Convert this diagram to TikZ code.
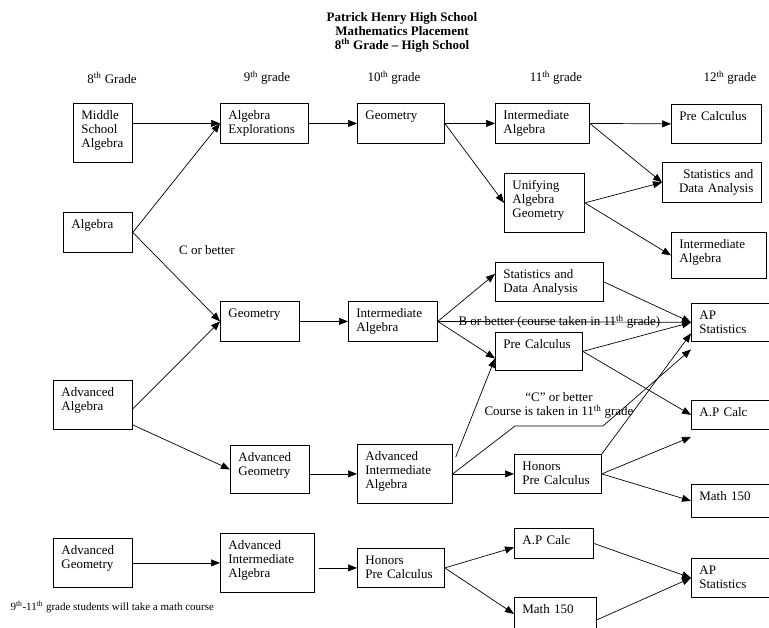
\documentclass[tikz,border=0pt]{standalone}
\usepackage{fontspec}
\setmainfont{Liberation Serif}
\usetikzlibrary{arrows.meta}

\begin{document}
\begin{tikzpicture}[x=1pt, y=-1pt, font=\fontsize{13}{14}\selectfont,
	course/.style={draw, line width=0.8pt, anchor=north west, align=left, inner xsep=8pt, inner ysep=0pt, text height=16pt},
	goes/.style={draw, line width=0.7pt, -{Triangle[length=9pt,width=7pt]}}]
	\useasboundingbox (0,0) rectangle (769,628);
	\clip (0,0) rectangle (769,628);
	\node[align=center, font=\fontsize{13}{14}\selectfont\bfseries] (title) at (402,32) {Patrick Henry High School\\Mathematics Placement\\8\textsuperscript{th} Grade -- High School};
	\node (g8) at (112,78) {8\textsuperscript{th} Grade};
	\node (g9) at (267,78) {9\textsuperscript{th} grade};
	\node (g10) at (394,78) {10\textsuperscript{th} grade};
	\node (g11) at (556,78) {11\textsuperscript{th} grade};
	\node (g12) at (730,78) {12\textsuperscript{th} grade};
	\node[course, text width=43pt, text depth=43pt] (msa) at (73,103) {Middle\\School\\Algebra};
	\node[course, text width=53pt, text depth=24pt] (alg) at (63,212) {Algebra};
	\node[course, text width=63pt, text depth=33pt] (advalg) at (53,380) {Advanced\\Algebra};
	\node[course, text width=63pt, text depth=33pt] (advgeo8) at (53,538) {Advanced\\Geometry};
	\node[course, text width=72pt, text depth=24pt] (expl) at (220,103) {Algebra\\Explorations};
	\node[course, text width=63pt, text depth=24pt] (geo9) at (220,301) {Geometry};
	\node[course, text width=63pt, text depth=32pt] (advgeo9) at (230,445) {Advanced\\Geometry};
	\node[course, text width=78pt, text depth=43pt] (advint9) at (220,533) {Advanced\\Intermediate\\Algebra};
	\node[course, text width=71pt, text depth=24pt] (geo10) at (357,103) {Geometry};
	\node[course, text width=73pt, text depth=24pt] (int10) at (348,301) {Intermediate\\Algebra};
	\node[course, text width=79pt, text depth=43pt] (advint10) at (357,444) {Advanced\\Intermediate\\Algebra};
	\node[course, text width=71pt, text depth=23pt] (hpc10) at (357,548) {Honors\\Pre Calculus};
	\node[course, text width=78pt, text depth=24pt] (int11) at (495,103) {Intermediate\\Algebra};
	\node[course, text width=64pt, text depth=43pt] (uni) at (504,173) {Unifying\\Algebra\\Geometry};
	\node[course, text width=92pt, text depth=23pt] (sda11) at (495,262) {Statistics and\\Data Analysis};
	\node[course, text width=71pt, text depth=22pt] (pc11) at (495,332) {Pre Calculus};
	\node[course, text width=71pt, text depth=23pt] (hpc11) at (514,454) {Honors\\Pre Calculus};
	\node[course, text width=63pt, text depth=14pt] (apc11) at (514,528) {A.P Calc};
	\node[course, text width=66pt, text depth=29pt] (m150b) at (514,597) {Math 150};
	\node[course, text width=74pt, text depth=23pt] (pc12) at (671,104) {Pre Calculus};
	\node[course, align=right, text width=83pt, text depth=24pt] (stat12) at (662,162) {Statistics and\\Data Analysis};
	\node[course, text width=79pt, text depth=30pt] (ia12) at (671,232) {Intermediate\\Algebra};
	\node[course, text width=69pt, text depth=22pt] (apst) at (691,303) {AP\\Statistics};
	\node[course, text width=69pt, text depth=13pt] (apcalc12) at (691,400) {A.P Calc};
	\node[course, text width=69pt, text depth=17pt] (m150a) at (691,484) {Math 150};
	\node[course, text width=69pt, text depth=23pt] (apst2) at (691,558) {AP\\Statistics};
	\node (cbetter) at (207,250) {C or better};
	\node[anchor=west, font=\fontsize{11}{13}\selectfont] (note) at (7,607) {9\textsuperscript{th}-11\textsuperscript{th} grade students will take a math course};
	\draw[goes] (msa.east |- expl.west) -- (expl.west);
	\draw[goes] (alg.east) -- (expl.west);
	\draw[goes] (alg.east) -- (geo9.west);
	\draw[goes] ([yshift=-4pt]advalg.east) -- (geo9.west);
	\draw[goes] ([yshift=-20pt]advalg.east) -- (advgeo9.west);
	\draw[goes] (advgeo8.east) -- (advint9.west);
	\draw[goes] (expl.east) -- (geo10.west);
	\draw[goes] (geo9.east) -- (int10.west);
	\draw[goes] (advgeo9.east |- advint10.west) -- (advint10.west);
	\draw[goes] ([xshift=4pt]advint9.east |- hpc10.west) -- (hpc10.west);
	\draw[goes] (geo10.east) -- (int11.west);
	\draw[goes] (geo10.east) -- (uni.west);
	\draw[goes] (int10.east) -- ([yshift=8pt]sda11.west);
	\draw[goes] (int10.east) -- node[pos=0.48] {B or better (course taken in 11\textsuperscript{th} grade)} (apst.west);
	\draw[goes] (int10.east) -- ([yshift=-7pt]pc11.west);
	\draw[goes] ([shift={(3pt,17pt)}]advint10.east) -- ([yshift=-7pt]pc11.west);
	\draw[goes] (advint10.east) -- (hpc11.west);
	\draw[goes] (advint10.east) -- (515,426) -- node[above=4pt, align=center] {``C'' or better\\Course is taken in 11\textsuperscript{th} grade} (603,426) -- ([yshift=-27pt]apst.west);
	\draw[goes] (int11.east) -- (pc12.west);
	\draw[goes] (int11.east) -- (stat12.west);
	\draw[goes] (uni.east) -- (stat12.west);
	\draw[goes] (uni.east) -- (ia12.west);
	\draw[goes] (sda11.east) -- (apst.west);
	\draw[goes] (pc11.east) -- (apst.west);
	\draw[goes] (pc11.east) -- (apcalc12.west);
	\draw[goes] (hpc11.north east) -- ([yshift=-11pt]apst.west);
	\draw[goes] (hpc11.east) -- ([yshift=-22pt]apcalc12.west);
	\draw[goes] (hpc11.east) -- (m150a.west);
	\draw[goes] (hpc10.east) -- ([yshift=-4pt]apc11.west);
	\draw[goes] (hpc10.east) -- ([yshift=6pt]m150b.west);
	\draw[goes] (apc11.east) -- (apst2.west);
	\draw[goes] (m150b.east) -- (apst2.west);
\end{tikzpicture}
\end{document}
